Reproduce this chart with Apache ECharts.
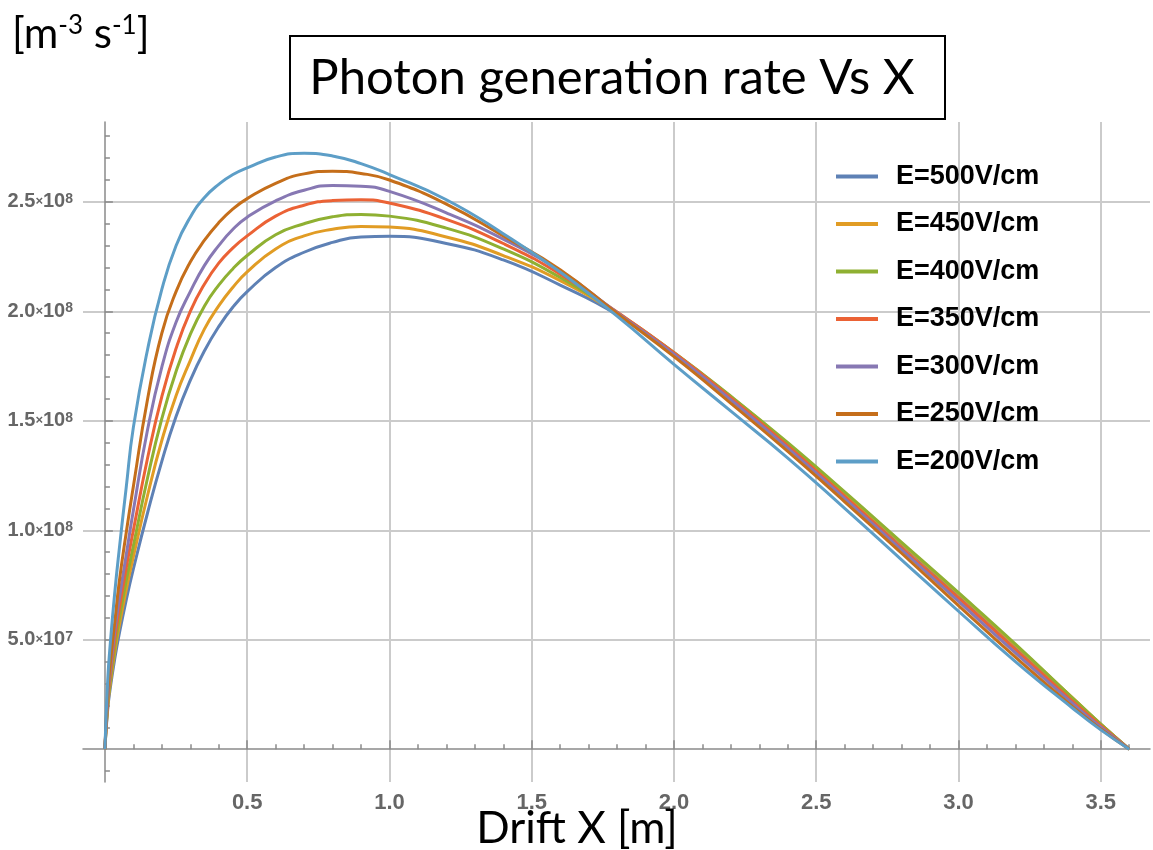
<!DOCTYPE html>
<html>
<head>
<meta charset="utf-8">
<script src="https://cdn.jsdelivr.net/npm/echarts@6/dist/echarts.min.js"></script>
<style>
  html, body { margin: 0; padding: 0; background: #fff; }
  #chart { width: 1153px; height: 850px; }
</style>
</head>
<body>
<div id="chart"></div>
<script>
// Drift X [m]
const driftX = [0, 0.01, 0.02, 0.035, 0.05, 0.075, 0.1, 0.15, 0.2, 0.25, 0.3, 0.35, 0.4, 0.45, 0.5, 0.6, 0.7, 0.8, 0.9, 1.0, 1.2, 1.4, 1.6, 1.8, 2.0, 2.2, 2.4, 2.6, 2.8, 3.0, 3.2, 3.4, 3.5, 3.6];
// photon generation rate, units of 1e8 m^-3 s^-1
const e500 = [0, 0.184, 0.289, 0.416, 0.524, 0.682, 0.823, 1.08, 1.315, 1.52, 1.685, 1.82, 1.93, 2.02, 2.09, 2.20, 2.27, 2.315, 2.340, 2.343, 2.31, 2.235, 2.12, 1.985, 1.805, 1.605, 1.39, 1.165, 0.935, 0.705, 0.47, 0.232, 0.113, 0];
const e450 = [0, 0.197, 0.309, 0.444, 0.560, 0.729, 0.879, 1.16, 1.41, 1.615, 1.775, 1.92, 2.025, 2.11, 2.18, 2.285, 2.345, 2.375, 2.388, 2.385, 2.34, 2.255, 2.14, 1.99, 1.81, 1.61, 1.395, 1.17, 0.94, 0.71, 0.475, 0.235, 0.114, 0];
const e400 = [0, 0.208, 0.326, 0.470, 0.592, 0.771, 0.929, 1.24, 1.51, 1.725, 1.895, 2.025, 2.12, 2.195, 2.255, 2.35, 2.40, 2.432, 2.443, 2.435, 2.38, 2.285, 2.155, 1.995, 1.812, 1.612, 1.40, 1.175, 0.945, 0.715, 0.48, 0.235, 0.115, 0];
const e350 = [0, 0.224, 0.351, 0.505, 0.637, 0.829, 1.0, 1.33, 1.61, 1.83, 2.0, 2.125, 2.22, 2.29, 2.345, 2.435, 2.485, 2.506, 2.51, 2.495, 2.42, 2.31, 2.17, 1.997, 1.811, 1.605, 1.385, 1.155, 0.92, 0.69, 0.455, 0.22, 0.107, 0];
const e300 = [0, 0.240, 0.376, 0.541, 0.682, 0.888, 1.09, 1.46, 1.745, 1.95, 2.09, 2.21, 2.30, 2.375, 2.43, 2.505, 2.553, 2.575, 2.572, 2.548, 2.45, 2.33, 2.185, 1.994, 1.804, 1.595, 1.375, 1.145, 0.91, 0.675, 0.44, 0.21, 0.10, 0];
const e250 = [0, 0.259, 0.406, 0.584, 0.76, 0.99, 1.20, 1.60, 1.90, 2.09, 2.225, 2.325, 2.405, 2.468, 2.515, 2.585, 2.628, 2.64, 2.63, 2.60, 2.49, 2.345, 2.19, 1.99, 1.793, 1.58, 1.36, 1.13, 0.895, 0.656, 0.42, 0.195, 0.092, 0];
const e200 = [0, 0.319, 0.50, 0.72, 0.908, 1.197, 1.47, 1.826, 2.10, 2.30, 2.43, 2.52, 2.58, 2.625, 2.655, 2.705, 2.722, 2.71, 2.675, 2.625, 2.51, 2.355, 2.18, 1.978, 1.758, 1.544, 1.33, 1.10, 0.865, 0.63, 0.40, 0.188, 0.088, 0];

const seriesNames = ['E=500V/cm','E=450V/cm','E=400V/cm','E=350V/cm','E=300V/cm','E=250V/cm','E=200V/cm'];
const seriesValues = [e500, e450, e400, e350, e300, e250, e200];
const colors = ['#5E81B5','#E19C24','#8FB032','#EB6235','#8778B3','#C56E1A','#5D9EC7'];

const xMajor = [0.5, 1.0, 1.5, 2.0, 2.5, 3.0, 3.5];
const xMinor = [0.1,0.2,0.3,0.4,0.6,0.7,0.8,0.9,1.1,1.2,1.3,1.4,1.6,1.7,1.8,1.9,2.1,2.2,2.3,2.4,2.6,2.7,2.8,2.9,3.1,3.2,3.3,3.4,3.6];
const yMajor = [0.5, 1.0, 1.5, 2.0, 2.5];
const yMinor = [-0.1,0.1,0.2,0.3,0.4,0.6,0.7,0.8,0.9,1.1,1.2,1.3,1.4,1.6,1.7,1.8,1.9,2.1,2.2,2.3,2.4,2.6,2.7,2.8];

const axisGrey = '#8a8a8a';
const labelGrey = '#666';

function sciLabel(v) {
  const val = v * 1e8;
  const exp = Math.floor(Math.log10(val) + 1e-9);
  const mant = (val / Math.pow(10, exp)).toFixed(1);
  return '{m|' + mant + '}{x|×}{m|10}{e|' + exp + '}';
}

const chart = echarts.init(document.getElementById('chart'));

const baseX = {
  type: 'value', min: -0.077, max: 3.673, position: 'bottom',
  axisLine: { onZero: true, onZeroAxisIndex: 0, lineStyle: { color: axisGrey, width: 1.5 } }
};
const baseY = {
  type: 'value', min: -0.15, max: 2.865, position: 'left',
  axisLine: { onZero: true, onZeroAxisIndex: 0, lineStyle: { color: axisGrey, width: 1.5 } }
};

chart.setOption({
  animation: false,
  backgroundColor: '#fff',
  color: colors,
  grid: { left: 83, right: 3, top: 122, bottom: 68, outerBoundsMode: 'none' },
  legend: {
    orient: 'vertical', left: 836, top: 163, padding: 0,
    itemWidth: 42, itemHeight: 4, itemGap: 20.5, icon: 'rect',
    data: seriesNames,
    textStyle: { fontFamily: 'Liberation Sans', fontWeight: 'bold', fontSize: 27, color: '#000', padding: [0, 0, 0, 13] }
  },
  xAxis: [
    Object.assign({}, baseX, {
      axisTick: { show: true, inside: true, length: 9, customValues: xMajor, lineStyle: { color: axisGrey, width: 1.5 } },
      axisLabel: { customValues: xMajor, margin: 10, formatter: v => v.toFixed(1),
        fontFamily: 'Liberation Sans', fontWeight: 'bold', fontSize: 22, color: labelGrey },
      splitLine: { show: true, lineStyle: { color: '#cbcbcb', width: 2 } }
    }),
    Object.assign({}, baseX, {
      axisLine: Object.assign({}, baseX.axisLine, { show: false }),
      axisTick: { show: true, inside: true, length: 5, customValues: xMinor, lineStyle: { color: axisGrey, width: 1.5 } },
      axisLabel: { show: false },
      splitLine: { show: false }
    })
  ],
  yAxis: [
    Object.assign({}, baseY, {
      axisTick: { show: true, inside: true, length: 8, customValues: yMajor, lineStyle: { color: axisGrey, width: 1.5 } },
      axisLabel: {
        customValues: yMajor, margin: 10, formatter: sciLabel,
        rich: {
          m: { fontFamily: 'Liberation Sans', fontWeight: 'bold', fontSize: 20, color: labelGrey },
          x: { fontFamily: 'Liberation Sans', fontWeight: 'bold', fontSize: 13, color: labelGrey },
          e: { fontFamily: 'Liberation Sans', fontWeight: 'bold', fontSize: 14, color: labelGrey, verticalAlign: 'top', lineHeight: 14 }
        }
      },
      splitLine: { show: true, lineStyle: { color: '#cbcbcb', width: 2 } }
    }),
    Object.assign({}, baseY, {
      axisLine: Object.assign({}, baseY.axisLine, { show: false }),
      axisTick: { show: true, inside: true, length: 5, customValues: yMinor, lineStyle: { color: axisGrey, width: 1.5 } },
      axisLabel: { show: false },
      splitLine: { show: false }
    })
  ],
  graphic: [
    { type: 'rect', shape: { x: 290, y: 36, width: 655, height: 83 },
      style: { fill: '#fff', stroke: '#000', lineWidth: 2 }, z: 10 },
    { type: 'text', x: 612, y: 78, z: 11,
      style: { text: 'Photon generation rate Vs X', font: '49px Lato', fill: '#000', align: 'center', verticalAlign: 'middle' } },
    { type: 'text', x: 12, y: 34, z: 11,
      style: {
        text: '{b|[m}{s|-3}{b| s}{s|-1}{b|]}', verticalAlign: 'middle',
        rich: {
          b: { fontFamily: 'Lato', fontSize: 42, fill: '#000' },
          s: { fontFamily: 'Lato', fontSize: 26, fill: '#000', verticalAlign: 'top', lineHeight: 26 }
        }
      } },
    { type: 'text', x: 577, y: 829, z: 11,
      style: { text: 'Drift X [m]', font: '44px Lato', fill: '#000', align: 'center', verticalAlign: 'middle' } }
  ],
  series: seriesValues.map((vals, i) => ({
    name: seriesNames[i], type: 'line',
    data: driftX.map((x, j) => [x, vals[j]]),
    xAxisIndex: 0, yAxisIndex: 0,
    showSymbol: false, symbol: 'none',
    smooth: 0.5,
    lineStyle: { width: 3, color: colors[i] },
    itemStyle: { color: colors[i] }
  }))
});
</script>
</body>
</html>
